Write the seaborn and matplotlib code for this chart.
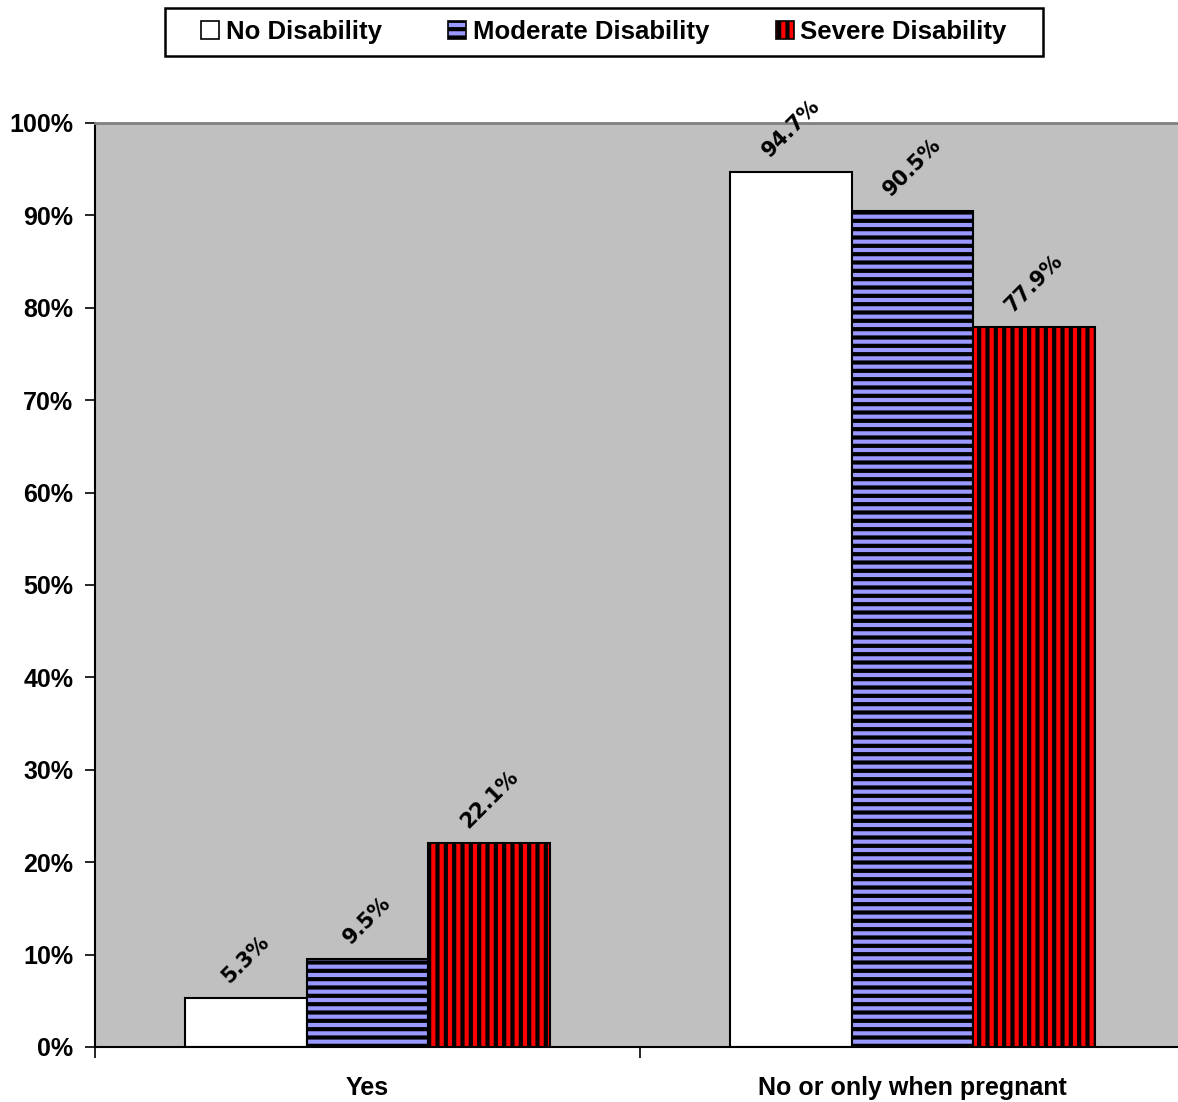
import matplotlib
matplotlib.use("Agg")
import matplotlib.pyplot as plt
import seaborn as sns
import pandas as pd
from matplotlib.patches import Patch, Rectangle
from matplotlib.ticker import FixedLocator, PercentFormatter

categories = ["Yes", "No or only when pregnant"]
groups = ["No Disability", "Moderate Disability", "Severe Disability"]
no_dis = [5.3, 94.7]
moderate = [9.5, 90.5]
severe = [22.1, 77.9]

colors = ["#FFFFFF", "#9999FF", "#FF0000"]
hatches = ["", "--", "||"]

rows = []
for g, vals in zip(groups, [no_dis, moderate, severe]):
    for c, v in zip(categories, vals):
        rows.append({"cat": c, "grp": g, "val": v})
df = pd.DataFrame(rows)

sns.set_theme(style="white")
plt.rcParams['font.family'] = ['Liberation Sans', 'DejaVu Sans']
plt.rcParams['hatch.linewidth'] = 3.0
plt.rcParams['hatch.color'] = 'black'
plt.rcParams['text.color'] = 'black'
plt.rcParams['xtick.color'] = 'black'
plt.rcParams['ytick.color'] = 'black'

W, H = 1178, 1102
fig = plt.figure(figsize=(W / 100, H / 100), dpi=100)
ax = fig.add_axes([95 / W, 1 - 1047 / H, 1090 / W, (1047 - 123) / H])
ax.set_facecolor("#C0C0C0")

sns.barplot(data=df, x="cat", y="val", hue="grp", order=categories, hue_order=groups,
            palette=colors, width=0.67, edgecolor="black", linewidth=1.5,
            ax=ax, legend=False, saturation=1)

for i, cont in enumerate(ax.containers):
    for bar, v in zip(cont, [no_dis, moderate, severe][i]):
        bar.set_hatch(hatches[i])
        bar.set_edgecolor("black")
        ax.annotate(f"{v:.1f}%", (bar.get_x() + bar.get_width() / 2, bar.get_height()),
                    xytext=(0, 8), textcoords="offset points", ha="center", va="bottom",
                    rotation=45, fontsize=15, fontweight="bold", color="black",
                    family=["DejaVu Sans"], annotation_clip=False)

ax.set_ylim(0, 100)
ax.set_xlim(-0.5, 1.5)
ax.yaxis.set_major_locator(FixedLocator(range(0, 101, 10)))
ax.yaxis.set_major_formatter(PercentFormatter(decimals=0))
ax.set_xlabel("")
ax.set_ylabel("")
for lab in ax.get_yticklabels() + ax.get_xticklabels():
    lab.set_fontweight("bold")
    lab.set_fontsize(18)
    lab.set_color("black")
ax.tick_params(axis="y", which="major", length=7.5, width=1.2, color="black", direction="out", left=True, pad=8)
ax.tick_params(axis="x", which="major", length=0, pad=21)
ax.xaxis.set_minor_locator(FixedLocator([-0.5, 0.5, 1.5]))
ax.tick_params(axis="x", which="minor", length=8, width=1.2, color="black", direction="out", bottom=True)

ax.spines["left"].set_color("black")
ax.spines["left"].set_linewidth(1.5)
ax.spines["bottom"].set_color("black")
ax.spines["bottom"].set_linewidth(1.5)
ax.spines["top"].set_color("#808080")
ax.spines["top"].set_linewidth(2)
ax.spines["right"].set_visible(False)

handles = [Patch(facecolor=c, edgecolor="black", hatch=h, linewidth=1.2) for c, h in zip(colors, hatches)]
leg = fig.legend(handles, groups, loc="center", bbox_to_anchor=(604 / W, 1 - 32 / H), ncol=3,
                 frameon=False, handlelength=0.7, handleheight=0.7,
                 handletextpad=0.25, columnspacing=2.6, borderpad=0.3,
                 prop={"weight": "bold", "size": 18.5})
for t in leg.get_texts():
    t.set_color("black")
fig.patches.append(Rectangle((165 / W, 1 - 56 / H), 878 / W, 48 / H, transform=fig.transFigure,
                             facecolor="white", edgecolor="black", linewidth=1.8, zorder=0))

fig.savefig("out.png", dpi=100, facecolor="white")
